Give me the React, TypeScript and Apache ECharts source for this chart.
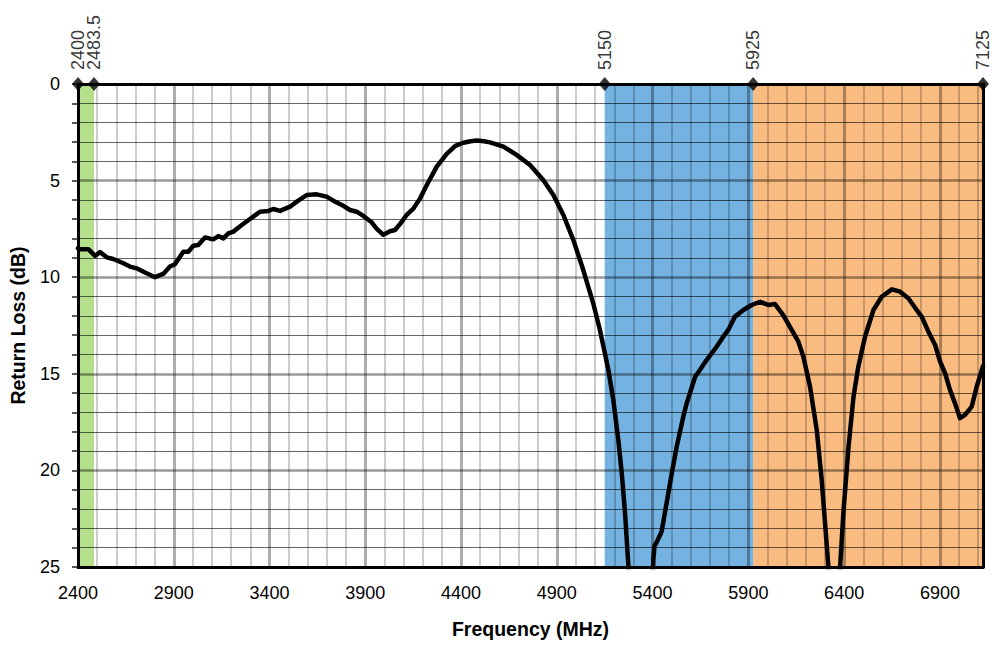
import React, { useEffect, useRef } from "react";
import * as echarts from "echarts";

const freqMHz = [2400, 2410, 2454, 2489, 2515, 2550, 2584, 2637, 2671, 2706, 2750, 2802, 2845, 2880, 2906, 2950, 2976, 3002, 3028, 3063, 3106, 3133, 3159, 3185, 3211, 3255, 3298, 3350, 3394, 3420, 3455, 3507, 3542, 3594, 3646, 3698, 3733, 3777, 3820, 3855, 3890, 3933, 3960, 3994, 4029, 4055, 4081, 4116, 4151, 4186, 4221, 4273, 4325, 4370, 4412, 4450, 4482, 4520, 4551, 4621, 4690, 4760, 4829, 4882, 4934, 4986, 5038, 5090, 5125, 5150, 5169, 5195, 5221, 5239, 5256, 5274, 5290, 5390, 5404, 5410, 5418, 5447, 5473, 5500, 5526, 5560, 5578, 5622, 5647, 5682, 5734, 5769, 5795, 5830, 5874, 5917, 5961, 6004, 6039, 6082, 6126, 6161, 6187, 6222, 6257, 6283, 6318, 6330, 6368, 6379, 6396, 6423, 6449, 6474, 6509, 6553, 6596, 6649, 6692, 6735, 6779, 6805, 6840, 6875, 6901, 6927, 6953, 6979, 7005, 7031, 7066, 7092, 7125];

const returnLossDb = [8.5, 8.55, 8.55, 8.9, 8.7, 8.97, 9.06, 9.28, 9.45, 9.54, 9.76, 10.0, 9.83, 9.45, 9.33, 8.68, 8.68, 8.37, 8.33, 7.94, 8.04, 7.87, 7.99, 7.73, 7.64, 7.3, 6.99, 6.61, 6.57, 6.47, 6.57, 6.35, 6.09, 5.75, 5.71, 5.83, 6.04, 6.26, 6.52, 6.61, 6.83, 7.16, 7.5, 7.8, 7.62, 7.56, 7.25, 6.78, 6.45, 5.92, 5.23, 4.28, 3.62, 3.2, 3.04, 2.96, 2.93, 2.96, 3.02, 3.24, 3.67, 4.19, 4.97, 5.75, 6.78, 8.07, 9.63, 11.35, 12.73, 13.9, 14.8, 16.36, 18.43, 20.15, 22.2, 25, 28.5, 28.5, 24.6, 23.9, 23.78, 23.17, 21.7, 20.15, 18.77, 17.22, 16.53, 15.15, 14.8, 14.29, 13.6, 13.08, 12.73, 12.04, 11.7, 11.44, 11.27, 11.44, 11.39, 11.96, 12.73, 13.34, 14.11, 15.67, 17.91, 20.5, 25, 28, 28, 25, 22.2, 18.77, 16.18, 14.63, 13.08, 11.7, 11.01, 10.63, 10.75, 11.09, 11.7, 12.04, 12.82, 13.51, 14.37, 14.97, 15.84, 16.53, 17.3, 17.13, 16.7, 15.67, 14.6];

const bandEdges = [2400, 2483.5, 5150, 5925, 7125];
const bandRanges = [
  [2400, 2483.5],
  [5150, 5925],
  [5925, 7125],
];
const bandColors = ["#b4e08c", "#74b2e2", "#f9bb7f"];

const X_MIN = 2400;
const X_MAX = 7125;
const Y_MIN = 0;
const Y_MAX = 25;

const FONT = "'Liberation Sans', Arial, sans-serif";

export default function App() {
  const ref = useRef<HTMLDivElement>(null);

  useEffect(() => {
    if (!ref.current) return;
    const chart = echarts.init(ref.current, undefined, { renderer: "svg" });
    const minor = (c: string) => ["transparent", c, c, c, c];
    const major = (c: string) => [c, "transparent", "transparent", "transparent", "transparent"];

    const option: any = {
      animation: false,
      backgroundColor: "#ffffff",
      grid: { left: 78, right: 14, top: 84, bottom: 79, containLabel: false },
      xAxis: [
        {
          type: "value",
          position: "bottom",
          min: X_MIN,
          max: X_MAX,
          interval: 100,
          z: 3,
          name: "Frequency (MHz)",
          nameLocation: "middle",
          nameGap: 52,
          nameTextStyle: { fontFamily: FONT, fontWeight: "bold", fontSize: 19.5, color: "#000" },
          axisLine: { show: true, onZero: false, lineStyle: { color: "#000", width: 3 } },
          axisTick: { show: false },
          axisLabel: {
            fontFamily: FONT,
            fontSize: 18,
            color: "#000",
            margin: 17,
            formatter: (v: number) => ((v - X_MIN) % 500 === 0 ? String(v) : ""),
          },
          splitLine: { show: true, lineStyle: { color: minor("rgba(0,0,0,0.2)"), width: 2 } },
        },
        {
          type: "value",
          position: "top",
          min: X_MIN,
          max: X_MAX,
          interval: 100,
          z: 3,
          axisLine: { show: true, onZero: false, lineStyle: { color: "#000", width: 3 } },
          axisTick: { show: false },
          axisLabel: { show: false },
          splitLine: { show: true, lineStyle: { color: major("rgba(0,0,0,0.32)"), width: 3 } },
        },
      ],
      yAxis: [
        {
          type: "value",
          position: "left",
          inverse: true,
          min: Y_MIN,
          max: Y_MAX,
          interval: 1,
          z: 3,
          name: "Return Loss (dB)",
          nameLocation: "middle",
          nameGap: 50,
          nameTextStyle: { fontFamily: FONT, fontWeight: "bold", fontSize: 19.5, color: "#000" },
          axisLine: { show: true, onZero: false, lineStyle: { color: "#000", width: 3 } },
          axisTick: { show: true, inside: false, length: 6, lineStyle: { color: "#222", width: 1.5 } },
          axisLabel: {
            fontFamily: FONT,
            fontSize: 18,
            color: "#000",
            margin: 18,
            formatter: (v: number) => (v % 5 === 0 ? String(v) : ""),
          },
          splitLine: { show: true, lineStyle: { color: minor("rgba(0,0,0,0.6)"), width: 1 } },
        },
        {
          type: "value",
          position: "right",
          inverse: true,
          min: Y_MIN,
          max: Y_MAX,
          interval: 1,
          z: 3,
          axisLine: { show: true, onZero: false, lineStyle: { color: "#000", width: 3 } },
          axisTick: { show: false },
          axisLabel: { show: false },
          splitLine: { show: true, lineStyle: { color: major("rgba(0,0,0,0.4)"), width: 2.5 } },
        },
      ],
      series: [
        {
          type: "line",
          name: "bands",
          xAxisIndex: 0,
          yAxisIndex: 0,
          data: [],
          silent: true,
          z: 1,
          markArea: {
            silent: true,
            itemStyle: { opacity: 1 },
            data: bandRanges.map((r, i) => [
              { xAxis: r[0], yAxis: Y_MIN, itemStyle: { color: bandColors[i], opacity: 1 } },
              { xAxis: r[1], yAxis: Y_MAX },
            ]),
          },
        },
        {
          type: "line",
          name: "Return Loss",
          xAxisIndex: 0,
          yAxisIndex: 0,
          z: 4,
          showSymbol: false,
          symbol: "none",
          clip: true,
          lineStyle: { color: "#000", width: 4.5, join: "round", cap: "round" },
          data: freqMHz.map((f, i) => [f, returnLossDb[i]]),
        },
        {
          type: "scatter",
          name: "edges",
          xAxisIndex: 0,
          yAxisIndex: 0,
          z: 5,
          clip: false,
          symbol: "diamond",
          symbolSize: [12, 14],
          itemStyle: { color: "#000" },
          label: {
            show: true,
            position: "top",
            distance: 7,
            rotate: 90,
            align: "left",
            verticalAlign: "middle",
            fontFamily: FONT,
            fontSize: 18,
            color: "#000",
            formatter: (p: any) => String(p.value[0]),
          },
          data: bandEdges.map((f) => [f, 0]),
        },
      ],
    };
    chart.setOption(option);
    return () => chart.dispose();
  }, []);

  return (
    <div
      ref={ref}
      style={{ position: "fixed", left: 0, top: 0, width: 997, height: 646 }}
    />
  );
}
